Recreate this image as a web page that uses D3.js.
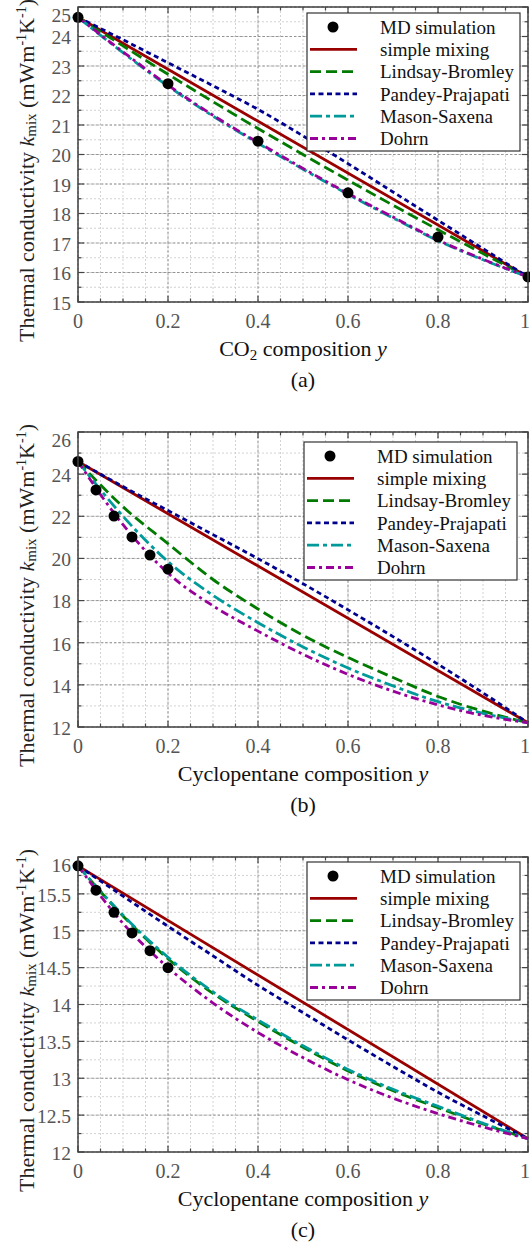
<!DOCTYPE html>
<html>
<head>
<meta charset="utf-8">
<script src="https://cdn.jsdelivr.net/npm/d3@7"></script>
<style>
  body { margin: 0; background: #fff; }
  svg { display: block; }
  text { font-family: "Liberation Serif", "Times New Roman", serif; }
</style>
</head>
<body>
<svg id="fig" width="530" height="1250"></svg>
<script>
// ---- data ----------------------------------------------------------------
const seriesNames = ["simple mixing", "Lindsay-Bromley", "Pandey-Prajapati", "Mason-Saxena", "Dohrn"];
const mdLabel = "MD simulation";

// model curves are sampled on this composition grid
const compositionGrid = [0, 0.1, 0.2, 0.3, 0.4, 0.5, 0.6, 0.7, 0.8, 0.9, 1];
const endpoints = [0, 1];

// (a) CO2 fraction
const mdY_a = [0, 0.2, 0.4, 0.6, 0.8, 1];
const mdK_a = [24.65, 22.4, 20.45, 18.7, 17.2, 15.85];
const simple_a = [24.65, 15.85];
const lindsay_a = [24.65, 23.68, 22.72, 21.79, 20.88, 20.0, 19.13, 18.28, 17.45, 16.64, 15.85];
const pandey_a = [24.65, 23.89, 23.11, 22.33, 21.53, 20.63, 19.69, 18.73, 17.77, 16.81, 15.85];
const mason_a = [24.65, 23.45, 22.32, 21.3, 20.38, 19.5, 18.65, 17.85, 17.08, 16.43, 15.85];
const dohrn_a = [24.65, 23.48, 22.35, 21.33, 20.41, 19.53, 18.68, 17.88, 17.1, 16.45, 15.85];

// (b) cyclopentane fraction
const mdY_b = [0, 0.04, 0.08, 0.12, 0.16, 0.2];
const mdK_b = [24.6, 23.25, 22.01, 21.02, 20.16, 19.49];
const simple_b = [24.6, 12.2];
const lindsay_b = [24.6, 22.45, 20.7, 19.0, 17.6, 16.35, 15.3, 14.35, 13.45, 12.75, 12.2];
const pandey_b = [24.6, 23.41, 22.27, 21.13, 19.99, 18.8, 17.56, 16.29, 14.98, 13.62, 12.2];
const mason_b = [24.6, 22.0, 19.85, 18.25, 16.95, 15.8, 14.8, 13.95, 13.2, 12.65, 12.2];
const dohrn_b = [24.6, 21.6, 19.3, 17.75, 16.55, 15.45, 14.5, 13.7, 13.05, 12.55, 12.2];

// (c) cyclopentane fraction, second mixture
const mdY_c = [0, 0.04, 0.08, 0.12, 0.16, 0.2];
const mdK_c = [15.88, 15.55, 15.25, 14.97, 14.73, 14.5];
const simple_c = [15.88, 12.18];
const lindsay_c = [15.88, 15.2, 14.62, 14.15, 13.77, 13.42, 13.1, 12.83, 12.6, 12.38, 12.18];
const pandey_c = [15.88, 15.47, 15.06, 14.66, 14.26, 13.89, 13.52, 13.16, 12.81, 12.49, 12.18];
const mason_c = [15.88, 15.21, 14.64, 14.17, 13.79, 13.44, 13.12, 12.85, 12.62, 12.39, 12.18];
const dohrn_c = [15.88, 15.1, 14.5, 14.02, 13.62, 13.28, 12.98, 12.73, 12.52, 12.34, 12.18];

const xTicks = [0, 0.2, 0.4, 0.6, 0.8, 1];
const yTicks_a = [15, 16, 17, 18, 19, 20, 21, 22, 23, 24, 25];
const yTicks_b = [12, 14, 16, 18, 20, 22, 24, 26];
const yTicks_c = [12, 12.5, 13, 13.5, 14, 14.5, 15, 15.5, 16];

// ---- styling ---------------------------------------------------------------
const styles = [
  { color: "#990000", dash: null },
  { color: "#007a00", dash: "11,5" },
  { color: "#00008f", dash: "5,3.5" },
  { color: "#009a9a", dash: "12,4,4,4" },
  { color: "#990099", dash: "8,4,3,4" }
];

const panels = [
  { tag: "(a)", xName: "CO2", top: 7, bottom: 302, yDomain: [15, 25], yTicks: yTicks_a, yMinor: 0.5,
    md: [mdY_a, mdK_a], curves: [simple_a, lindsay_a, pandey_a, mason_a, dohrn_a], legendOff: [6, 8] },
  { tag: "(b)", xName: "Cyclopentane", top: 432, bottom: 727, yDomain: [12, 26], yTicks: yTicks_b, yMinor: 1,
    md: [mdY_b, mdK_b], curves: [simple_b, lindsay_b, pandey_b, mason_b, dohrn_b], legendOff: [10, 11] },
  { tag: "(c)", xName: "Cyclopentane", top: 857, bottom: 1152, yDomain: [12, 16], yTicks: yTicks_c, yMinor: 0.25,
    md: [mdY_c, mdK_c], curves: [simple_c, lindsay_c, pandey_c, mason_c, dohrn_c], legendOff: [5, 8] }
];

const left = 78, right = 528, svgW = 530;
const svg = d3.select("#fig");

panels.forEach(p => {
  const g = svg.append("g");
  const x = d3.scaleLinear().domain([0, 1]).range([left, right]);
  const y = d3.scaleLinear().domain(p.yDomain).range([p.bottom, p.top]);

  // minor grid
  const xMinor = d3.range(0, 1.0001, 0.05);
  const yMinorVals = d3.range(p.yDomain[0], p.yDomain[1] + 1e-6, p.yMinor);
  g.append("g").selectAll("line").data(xMinor).join("line")
    .attr("x1", d => x(d)).attr("x2", d => x(d)).attr("y1", p.top).attr("y2", p.bottom)
    .attr("stroke", "#c8c8c8").attr("stroke-width", 0.8).attr("stroke-dasharray", "2,2");
  g.append("g").selectAll("line").data(yMinorVals).join("line")
    .attr("y1", d => y(d)).attr("y2", d => y(d)).attr("x1", left).attr("x2", right)
    .attr("stroke", "#c8c8c8").attr("stroke-width", 0.8).attr("stroke-dasharray", "2,2");
  // major grid
  g.append("g").selectAll("line").data(xTicks).join("line")
    .attr("x1", d => x(d)).attr("x2", d => x(d)).attr("y1", p.top).attr("y2", p.bottom)
    .attr("stroke", "#8a8a8a").attr("stroke-width", 0.9).attr("stroke-dasharray", "2.5,2");
  g.append("g").selectAll("line").data(p.yTicks).join("line")
    .attr("y1", d => y(d)).attr("y2", d => y(d)).attr("x1", left).attr("x2", right)
    .attr("stroke", "#8a8a8a").attr("stroke-width", 0.9).attr("stroke-dasharray", "2.5,2");

  // inward tick marks on all four sides
  const tk = g.append("g").attr("stroke", "#444").attr("stroke-width", 1.2);
  xMinor.forEach(v => {
    const major = xTicks.some(t => Math.abs(t - v) < 1e-6);
    const len = major ? 6 : 3.5;
    tk.append("line").attr("x1", x(v)).attr("x2", x(v)).attr("y1", p.bottom).attr("y2", p.bottom - len);
    tk.append("line").attr("x1", x(v)).attr("x2", x(v)).attr("y1", p.top).attr("y2", p.top + len);
  });
  yMinorVals.forEach(v => {
    const major = p.yTicks.some(t => Math.abs(t - v) < 1e-6);
    const len = major ? 6 : 3.5;
    tk.append("line").attr("y1", y(v)).attr("y2", y(v)).attr("x1", left).attr("x2", left + len);
    tk.append("line").attr("y1", y(v)).attr("y2", y(v)).attr("x1", right).attr("x2", right - len);
  });

  // curves
  const line = d3.line().x(d => x(d[0])).y(d => y(d[1])).curve(d3.curveMonotoneX);
  const plotG = g.append("g");
  p.curves.forEach((vals, i) => {
    const xs = vals.length === 2 ? endpoints : compositionGrid;
    plotG.append("path")
      .datum(xs.map((c, j) => [c, vals[j]]))
      .attr("d", line)
      .attr("fill", "none")
      .attr("stroke", styles[i].color)
      .attr("stroke-width", 2.8)
      .attr("stroke-dasharray", styles[i].dash);
  });

  // MD points
  plotG.selectAll("circle").data(p.md[0].map((c, j) => [c, p.md[1][j]])).join("circle")
    .attr("cx", d => x(d[0])).attr("cy", d => y(d[1])).attr("r", 5.5).attr("fill", "#000");

  // frame
  g.append("rect").attr("x", left).attr("y", p.top).attr("width", right - left).attr("height", p.bottom - p.top)
    .attr("fill", "none").attr("stroke", "#444").attr("stroke-width", 1.5);

  // tick labels
  const fmt = v => String(v);
  g.append("g").selectAll("text").data(xTicks).join("text")
    .attr("x", d => x(d)).attr("y", p.bottom + 26).attr("text-anchor", "middle")
    .attr("font-size", 20).attr("fill", "#555").text(fmt)
    .each(function () {
      // keep the last label inside the page
      const b = this.getBBox();
      if (b.x + b.width > svgW) this.setAttribute("x", +this.getAttribute("x") - (b.x + b.width - svgW));
    });
  const topVal = p.yDomain[1];
  g.append("g").selectAll("text").data(p.yTicks).join("text")
    .attr("x", 71).attr("y", d => y(d) + (d === topVal ? 7 : 0)).attr("dy", "0.4em").attr("text-anchor", "end")
    .attr("font-size", 19.5).attr("fill", "#555").text(fmt);

  // x label
  const xl = g.append("text").attr("x", (left + right) / 2).attr("y", p.bottom + 54)
    .attr("text-anchor", "middle").attr("font-size", 22).attr("fill", "#111");
  if (p.xName === "CO2") {
    xl.append("tspan").text("CO");
    xl.append("tspan").attr("font-size", 15).attr("dy", 4).text("2");
    xl.append("tspan").attr("dy", -4).text(" composition ");
  } else {
    xl.append("tspan").text(p.xName + " composition ");
  }
  xl.append("tspan").attr("font-style", "italic").text("y");

  // y label
  const cy = (p.top + p.bottom) / 2 + 16;
  const yl = g.append("text").attr("transform", `translate(34,${cy}) rotate(-90)`)
    .attr("text-anchor", "middle").attr("font-size", 22).attr("fill", "#222");
  yl.append("tspan").text("Thermal conductivity ");
  yl.append("tspan").attr("font-style", "italic").text("k");
  yl.append("tspan").attr("font-size", 15).attr("dy", 2).text("mix");
  yl.append("tspan").attr("dy", -2).text(" (mWm");
  yl.append("tspan").attr("font-size", 14).attr("dy", -8).text("-1");
  yl.append("tspan").attr("dy", 8).text("K");
  yl.append("tspan").attr("font-size", 14).attr("dy", -8).text("-1");
  yl.append("tspan").attr("dy", 8).text(")");

  // panel tag
  g.append("text").attr("x", (left + right) / 2).attr("y", p.bottom + 85)
    .attr("text-anchor", "middle").attr("font-size", 22).attr("fill", "#111")
    .attr("font-family", "'DejaVu Serif', serif").attr("font-weight", 300).text(p.tag);

  // legend
  const lw = 213, lh = 138;
  const lx = right - p.legendOff[1] - lw, ly = p.top + p.legendOff[0];
  const lg = g.append("g");
  lg.append("rect").attr("x", lx).attr("y", ly).attr("width", lw).attr("height", lh)
    .attr("fill", "#fff").attr("stroke", "#333").attr("stroke-width", 1.2);
  const rowY = i => ly + 14 + i * 22.3;
  lg.append("circle").attr("cx", lx + 26).attr("cy", rowY(0)).attr("r", 5.5).attr("fill", "#000");
  lg.append("text").attr("x", lx + 73).attr("y", rowY(0)).attr("dy", "0.35em")
    .attr("font-size", 19).attr("fill", "#111").text(mdLabel);
  seriesNames.forEach((name, i) => {
    const yy = rowY(i + 1);
    lg.append("line").attr("x1", lx + 3).attr("x2", lx + 50).attr("y1", yy).attr("y2", yy)
      .attr("stroke", styles[i].color).attr("stroke-width", 2.8).attr("stroke-dasharray", styles[i].dash);
    lg.append("text").attr("x", lx + 73).attr("y", yy).attr("dy", "0.35em")
      .attr("font-size", 19).attr("fill", "#111").text(name);
  });
});
</script>
</body>
</html>
